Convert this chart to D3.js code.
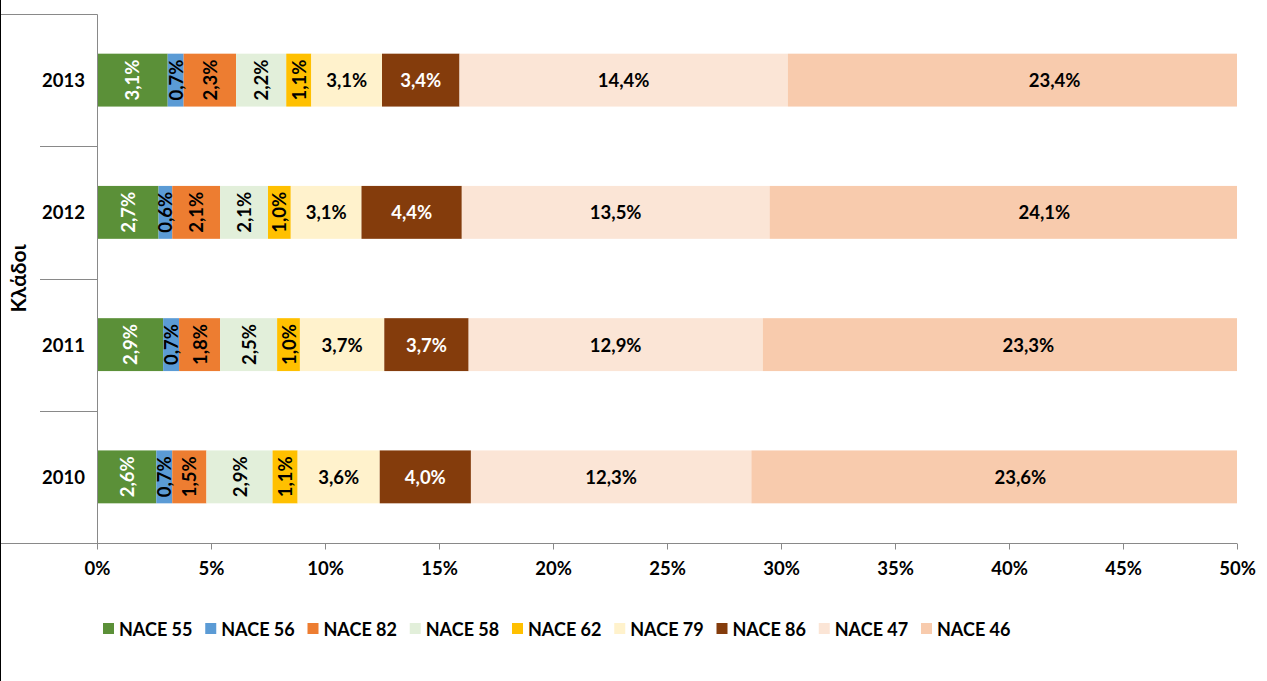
<!DOCTYPE html>
<html>
<head>
<meta charset="utf-8">
<script src="https://cdn.jsdelivr.net/npm/d3@7"></script>
<style>
  html, body { margin: 0; padding: 0; background: #fff; }
  svg { display: block; }
  text { font-family: Lato, "Open Sans", sans-serif; font-weight: bold; }
</style>
</head>
<body>
<svg id="chart" width="1267" height="681"></svg>
<script>
// ---- data (percent of total) ----
const years = ["2010", "2011", "2012", "2013"];
const seriesNames = ["NACE 55", "NACE 56", "NACE 82", "NACE 58", "NACE 62", "NACE 79", "NACE 86", "NACE 47", "NACE 46"];
const nace55 = [2.6, 2.9, 2.7, 3.1];
const nace56 = [0.7, 0.7, 0.6, 0.7];
const nace82 = [1.5, 1.8, 2.1, 2.3];
const nace58 = [2.9, 2.5, 2.1, 2.2];
const nace62 = [1.1, 1.0, 1.0, 1.1];
const nace79 = [3.6, 3.7, 3.1, 3.1];
const nace86 = [4.0, 3.7, 4.4, 3.4];
const nace47 = [12.3, 12.9, 13.5, 14.4];
const nace46 = [23.6, 23.3, 24.1, 23.4];
const xTicks = [0, 5, 10, 15, 20, 25, 30, 35, 40, 45, 50];
const axisTitle = "Κλάδοι";

// ---- styles ----
const colors = ["#5B9038", "#5B9BD5", "#ED7D31", "#E2EFDA", "#FFC000", "#FFF2CC", "#843C0C", "#FBE5D6", "#F8CBAD"];
const labelColors = ["#fff", "#000", "#000", "#000", "#000", "#000", "#fff", "#000", "#000"];
const rotated = [true, true, true, true, true, false, false, false, false];
const fs = 18.5;

const seriesValues = [nace55, nace56, nace82, nace58, nace62, nace79, nace86, nace47, nace46];
const rows = years.map((yr, i) => {
  const r = { year: yr };
  seriesNames.forEach((s, k) => r[s] = seriesValues[k][i]);
  return r;
});

const svg = d3.select("#chart");
const pLeft = 97, pRight = 1237, pTop = 14, pBottom = 543;
const axisGray = "#898989";

const x = d3.scaleLinear().domain([0, 50]).range([pLeft, pRight]);
const yOrder = years.slice().reverse(); // 2013 on top
const y = d3.scaleBand().domain(yOrder).range([pTop, pBottom]).paddingInner(0.6).paddingOuter(0.3);
const yCat = d3.scaleBand().domain(yOrder).range([pTop, pBottom]).padding(0);

const stack = d3.stack().keys(seriesNames)(rows);

// clip
svg.append("defs").append("clipPath").attr("id", "plotClip")
  .append("rect").attr("x", pLeft).attr("y", pTop).attr("width", pRight - pLeft).attr("height", pBottom - pTop);

// bars
const gBars = svg.append("g").attr("clip-path", "url(#plotClip)");
stack.forEach((layer, k) => {
  gBars.append("g").attr("fill", colors[k])
    .selectAll("rect").data(layer).join("rect")
    .attr("x", d => x(d[0]))
    .attr("y", d => y(d.data.year))
    .attr("width", d => x(d[1]) - x(d[0]))
    .attr("height", y.bandwidth());
});

// data labels
const gLab = svg.append("g");
stack.forEach((layer, k) => {
  layer.forEach(d => {
    const cx = x((d[0] + d[1]) / 2);
    const cy = y(d.data.year) + y.bandwidth() / 2;
    const txt = d3.format(".1f")(d[1] - d[0]).replace(".", ",") + "%";
    const t = gLab.append("text")
      .attr("fill", labelColors[k])
      .attr("font-size", fs)
      .attr("text-anchor", "middle")
      .attr("dominant-baseline", "central")
      .text(txt);
    if (rotated[k]) {
      t.attr("transform", `translate(${cx},${cy}) rotate(-90)`);
    } else {
      t.attr("x", cx).attr("y", cy);
    }
  });
});

// axes lines
const gAxes = svg.append("g").attr("stroke", axisGray).attr("stroke-width", 1).attr("fill", "none");
const xAxis = d3.axisBottom(x).tickValues(xTicks).tickSize(6).tickFormat(d => d + "%");
const gx = svg.append("g").attr("transform", `translate(0,${pBottom + 0.5})`).call(xAxis);
gx.select(".domain").remove();
gx.selectAll(".tick line").attr("stroke", axisGray);
gx.selectAll(".tick text").attr("font-size", fs).attr("fill", "#000").attr("dy", "1.2em")
  .style("font-family", "Lato, sans-serif").style("font-weight", "bold");
gAxes.append("line").attr("x1", 0).attr("x2", pRight).attr("y1", pBottom + 0.5).attr("y2", pBottom + 0.5);
gAxes.append("line").attr("x1", pLeft + 0.5).attr("x2", pLeft + 0.5).attr("y1", pTop + 0.5).attr("y2", pBottom + 6);
gAxes.append("line").attr("x1", 0).attr("x2", pLeft + 0.5).attr("y1", pTop + 0.5).attr("y2", pTop + 0.5);
yOrder.slice(1).forEach(yr => {
  const yy = Math.round(yCat(yr)) + 0.5;
  gAxes.append("line").attr("x1", 40).attr("x2", pLeft).attr("y1", yy).attr("y2", yy);
});
svg.append("line").attr("x1", 0.5).attr("x2", 0.5).attr("y1", 0).attr("y2", 681).attr("stroke", "#000").attr("stroke-width", 1);

// category labels
svg.append("g").selectAll("text").data(yOrder).join("text")
  .attr("x", 85).attr("y", d => yCat(d) + yCat.bandwidth() / 2)
  .attr("text-anchor", "end").attr("dominant-baseline", "central")
  .attr("font-size", fs).attr("fill", "#000").text(d => d);

// axis title
svg.append("text")
  .attr("transform", `translate(17,${(pTop + pBottom) / 2}) rotate(-90)`)
  .attr("text-anchor", "middle").attr("dominant-baseline", "central")
  .attr("font-size", 21).attr("fill", "#000").text(axisTitle);

// legend
const legend = svg.append("g").attr("transform", "translate(103,629)");
const item = legend.selectAll("g").data(seriesNames).join("g")
  .attr("transform", (d, i) => `translate(${i * 102.25},0)`);
item.append("rect").attr("x", 0).attr("y", -6).attr("width", 11).attr("height", 11).attr("fill", (d, i) => colors[i]);
item.append("text").attr("x", 16).attr("y", 0).attr("dominant-baseline", "central")
  .attr("font-size", 18).attr("fill", "#000").text(d => d);
</script>
</body>
</html>
